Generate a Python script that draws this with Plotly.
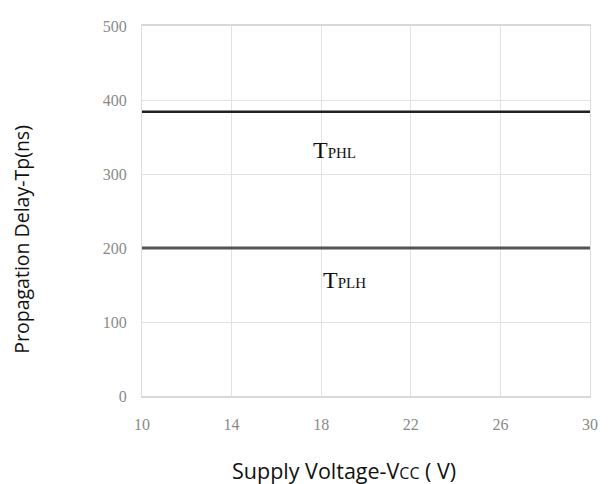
import plotly.graph_objects as go

x_vals = [10, 30]
tphl = [384, 384]
tplh = [200, 200]
x_ticks = [10, 14, 18, 22, 26, 30]
y_ticks = [0, 100, 200, 300, 400, 500]

fig = go.Figure()
fig.add_trace(go.Scatter(x=x_vals, y=tphl, mode="lines", line=dict(color="#222222", width=2.5), showlegend=False))
fig.add_trace(go.Scatter(x=x_vals, y=tplh, mode="lines", line=dict(color="#555555", width=3), showlegend=False))

serif = "Liberation Serif, Times New Roman, serif"
fig.add_annotation(x=18.6, y=332, text="T<span style='font-size:15px'>PHL</span>", showarrow=False,
                   font=dict(family=serif, size=24, color="#111"))
fig.add_annotation(x=19.05, y=157, text="T<span style='font-size:15px'>PLH</span>", showarrow=False,
                   font=dict(family=serif, size=24, color="#111"))

sans = "Open Sans, Noto Sans, sans-serif"
fig.add_annotation(xref="paper", yref="paper", x=0.45, y=-0.2, xanchor="center", yanchor="middle",
                   text="Supply Voltage-V<span style='font-size:16px'>CC</span> ( V)", showarrow=False,
                   font=dict(family=sans, size=21.5, color="#111"))
fig.add_annotation(xref="paper", yref="paper", x=-0.268, y=0.425, xanchor="center", yanchor="middle",
                   textangle=-90, text="Propagation Delay-Tp(ns)", showarrow=False,
                   font=dict(family=sans, size=19.5, color="#111"))

fig.update_layout(
    width=603, height=476,
    margin=dict(l=134, r=21, t=18, b=88, autoexpand=False),
    plot_bgcolor="white", paper_bgcolor="white",
)
fig.update_xaxes(range=[10, 30], tickvals=x_ticks, showgrid=True, gridcolor="#e2e2e2", gridwidth=1,
                 showline=True, linecolor="#d8d8d8", linewidth=2, mirror=True, zeroline=False,
                 ticks="", ticklabelstandoff=13,
                 tickfont=dict(family=serif, size=16, color="#8a8a8a"))
fig.update_yaxes(range=[0, 500], tickvals=y_ticks, showgrid=True, gridcolor="#e2e2e2", gridwidth=1,
                 showline=True, linecolor="#dcdcdc", linewidth=1, mirror=True, zeroline=False,
                 ticks="", ticklabelstandoff=11,
                 tickfont=dict(family=serif, size=16, color="#8a8a8a"))

fig.write_html("out.html")
